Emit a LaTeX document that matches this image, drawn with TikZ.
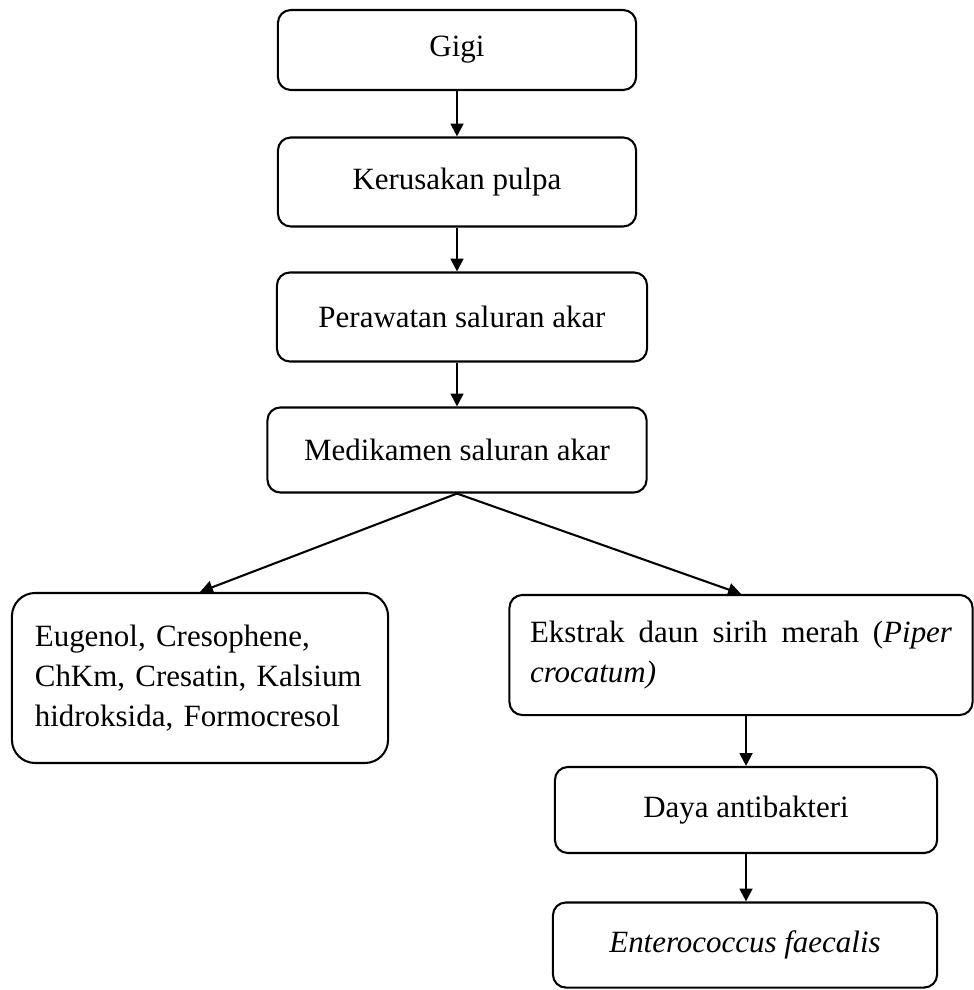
\documentclass[tikz,border=0pt]{standalone}
\usepackage{fontspec}
\setmainfont{Liberation Serif}
\usetikzlibrary{arrows.meta}

\begin{document}
\begin{tikzpicture}[x=0.01363cm, y=-0.01363cm,
		kotak/.style={draw, line width=0.8pt, rounded corners=5pt, inner sep=0, align=center,
			font=\fontsize{12}{15.5}\selectfont},
		panah/.style={line width=0.8pt, -{Triangle[length=5pt, width=5pt]}}]
		\useasboundingbox (0,0) rectangle (974,990);
		\node (gigi) at (457,50) [kotak, minimum width=4.88cm, minimum height=1.09cm] {Gigi};
		\node (pulpa) at (457,182) [kotak, minimum width=4.88cm, minimum height=1.213cm] {Kerusakan pulpa};
		\node (rawat) at (462,317) [kotak, minimum width=5.043cm, minimum height=1.213cm] {Perawatan saluran akar};
		\node (medik) at (457,450) [kotak, minimum width=5.166cm, minimum height=1.159cm] {Medikamen saluran akar};
		\node (bahan) at (200,678) [kotak, rounded corners=9pt, minimum width=5.125cm, minimum height=2.317cm,
			text width=4.5cm, inner xsep=0.31cm, align=left] {Eugenol, Cresophene,\\ChKm, Cresatin, Kalsium\\hidroksida, Formocresol};
		\node (sirih) at (741,655) [kotak, minimum width=6.311cm, minimum height=1.636cm,
			text width=5.75cm, inner xsep=0.28cm, align=justify] {Ekstrak daun sirih merah (\textit{Piper crocatum)}};
		\node (daya) at (746,810) [kotak, minimum width=5.207cm, minimum height=1.172cm] {Daya antibakteri};
		\node (entero) at (745,945) [kotak, minimum width=5.234cm, minimum height=1.159cm] {\textit{Enterococcus faecalis}};

		\draw [panah] (gigi.south) -- (pulpa.north);
		\draw [panah] (pulpa.south) -- (pulpa.south |- rawat.north);
		\draw [panah] (rawat.south -| medik.south) -- (medik.north);
		\draw [panah] (medik.south) -- (bahan.north);
		\draw [panah] (medik.south) -- (sirih.north);
		\draw [panah] (sirih.south -| daya.north) -- (daya.north);
		\draw [panah] (daya.south -| daya.north) -- (entero.north -| daya.north);
	\end{tikzpicture}
\end{document}
